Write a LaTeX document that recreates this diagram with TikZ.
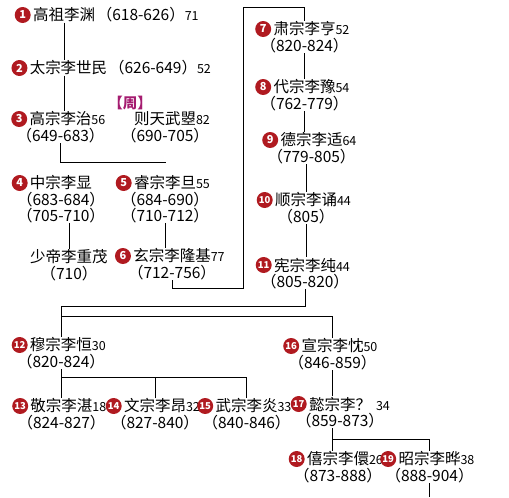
\documentclass[tikz,border=0pt]{standalone}
\usepackage{fontspec}
\setmainfont{Noto Sans CJK SC}
\usetikzlibrary{positioning}
\definecolor{badgered}{RGB}{176,26,32}
\definecolor{zhoupink}{RGB}{165,28,112}
\newcommand{\agemark}[1]{\rlap{\fontsize{12.5}{13}\selectfont #1}}

\begin{document}
\begin{tikzpicture}[x=1pt, y=-1pt, line width=0.8pt,
    emperor/.style={inner sep=0pt, font=\fontsize{15.5}{14}\selectfont},
    reign/.style={inner sep=0pt, align=center, font=\fontsize{15.5}{14}\selectfont},
    badge/.style={circle, fill=badgered, text=white, inner sep=0pt, minimum size=16pt,
        font=\bfseries\fontsize{11}{11}\selectfont},
    badge2/.style={badge, font=\bfseries\fontsize{9.5}{10}\selectfont}]
        \useasboundingbox (0,0) rectangle (509,498);
        % first line: Gaozu to Xuanzong
        \node (n1) [emperor] at (64,15) {高祖李渊};
        \node (y1) [reign, right=1pt of n1] {（618-626）\agemark{71}};
        \node (b1) [badge, left=1.5pt of n1] {1};
        \node (n2) [emperor] at (68.5,68) {太宗李世民};
        \node (y2) [reign, right=1pt of n2] {（626-649）\agemark{52}};
        \node (b2) [badge, left=1.5pt of n2] {2};
        \node (n3) [emperor] at (60.5,119) {高宗李治\agemark{56}};
        \node (y3) [reign, below=1pt of n3] {（649-683）};
        \node (b3) [badge, left=1.5pt of n3] {3};
        \node (zhou) [emperor, text=zhoupink, font=\bfseries\fontsize{14.5}{14}\selectfont] at (130,103) {【周】};
        \node (wu) [emperor] at (165,119) {则天武曌\agemark{82}};
        \node (ywu) [reign, below=1pt of wu] {（690-705）};
        \node (n4) [emperor] at (61,183) {中宗李显};
        \node (y4) [reign, below=1pt of n4] {（683-684）\\（705-710）};
        \node (b4) [badge, left=1.5pt of n4] {4};
        \node (n5) [emperor] at (165,183) {睿宗李旦\agemark{55}};
        \node (y5) [reign, below=1pt of n5] {（684-690）\\（710-712）};
        \node (b5) [badge, left=1.5pt of n5] {5};
        \node (sd) [emperor] at (69,257) {少帝李重茂};
        \node (ysd) [reign, below=1pt of sd] {（710）};
        \node (n6) [emperor] at (172,256) {玄宗李隆基\agemark{77}};
        \node (y6) [reign, below=1pt of n6] {（712-756）};
        \node (b6) [badge, left=1.5pt of n6] {6};
        % second line: Suzong to Xianzong
        \node (n7) [emperor] at (304.5,29) {肃宗李亨\agemark{52}};
        \node (y7) [reign, below=1pt of n7] {（820-824）};
        \node (b7) [badge, left=1.5pt of n7] {7};
        \node (n8) [emperor] at (304.5,87) {代宗李豫\agemark{54}};
        \node (y8) [reign, below=1pt of n8] {（762-779）};
        \node (b8) [badge, left=1.5pt of n8] {8};
        \node (n9) [emperor] at (311.5,140) {德宗李适\agemark{64}};
        \node (y9) [reign, below=1pt of n9] {（779-805）};
        \node (b9) [badge, left=1.5pt of n9] {9};
        \node (n10) [emperor] at (306,200) {顺宗李诵\agemark{44}};
        \node (y10) [reign, below=1pt of n10] {（805）};
        \node (b10) [badge2, left=1.5pt of n10] {10};
        \node (n11) [emperor] at (305,265) {宪宗李纯\agemark{44}};
        \node (y11) [reign, below=1pt of n11] {（805-820）};
        \node (b11) [badge2, left=1.5pt of n11] {11};
        % last line: Muzong to Zhaozong
        \node (n12) [emperor] at (61,345) {穆宗李恒\agemark{30}};
        \node (y12) [reign, below=1pt of n12] {（820-824）};
        \node (b12) [badge2, left=1.5pt of n12] {12};
        \node (n13) [emperor] at (61.5,406) {敬宗李湛\agemark{18}};
        \node (y13) [reign, below=1pt of n13] {（824-827）};
        \node (b13) [badge2, left=1.5pt of n13] {13};
        \node (n14) [emperor] at (155,406) {文宗李昂\agemark{32}};
        \node (y14) [reign, below=1pt of n14] {（827-840）};
        \node (b14) [badge2, left=1.5pt of n14] {14};
        \node (n15) [emperor] at (246.5,406) {武宗李炎\agemark{33}};
        \node (y15) [reign, below=1pt of n15] {（840-846）};
        \node (b15) [badge2, left=1.5pt of n15] {15};
        \node (n16) [emperor] at (332.5,346) {宣宗李忱\agemark{50}};
        \node (y16) [reign, below=1pt of n16] {（846-859）};
        \node (b16) [badge2, left=1.5pt of n16] {16};
        \node (n17) [emperor] at (340,404) {懿宗李？\agemark{\hspace{5pt}34}};
        \node (y17) [reign, below=1pt of n17] {（859-873）};
        \node (b17) [badge2, left=1.5pt of n17] {17};
        \node (n18) [emperor] at (338,459) {僖宗李儇\agemark{26}};
        \node (y18) [reign, below=1pt of n18] {（873-888）};
        \node (b18) [badge2, left=1.5pt of n18] {18};
        \node (n19) [emperor] at (429.5,459) {昭宗李晔\agemark{38}};
        \node (y19) [reign, below=1pt of n19] {（888-904）};
        \node (b19) [badge2, left=1.5pt of n19] {19};
        \coordinate (turn6) at (243,288);
        \coordinate (turn7) at (243,7);
        \draw (n1.south) -- (n1.south |- n2.north);
        \draw (n1.south |- n2.south) -- (n1.south |- n3.north);
        \draw [shorten >=12pt] (y3.south) -- ++(0,19) -| (n5.north);
        \draw (sd.north |- y4.south) -- (sd.north);
        \draw (y5.south) -- (y5.south |- n6.north);
        \draw (y6.south) |- (turn6) |- (turn7) -| (n7.north);
        \draw (y7.south) -- (y7.south |- n8.north);
        \draw (y8.south) -- (y8.south |- n9.north);
        \draw (n10.north |- y9.south) -- (n10.north);
        \draw (y10.south) -- (y10.south |- n11.north);
        \draw (y11.south) -- ++(0,17) -| (n12.north);
        \draw (n12.north) ++(0,-21) -| (n16.north);
        \draw (y12.south) -- (y12.south |- n13.north);
        \draw (n13.north) ++(0,-21) -| (n15.north);
        \draw (n14.north) -- ++(0,-21);
        \draw (y16.south) -- (y16.south |- n17.north);
        \draw (y16.south |- y17.south) -- (y16.south |- n18.north);
        \draw (y16.south |- y17.south) ++(0,11) -| (n19.north);
        \draw (y19.south) -- ++(0,14);
\end{tikzpicture}
\end{document}
